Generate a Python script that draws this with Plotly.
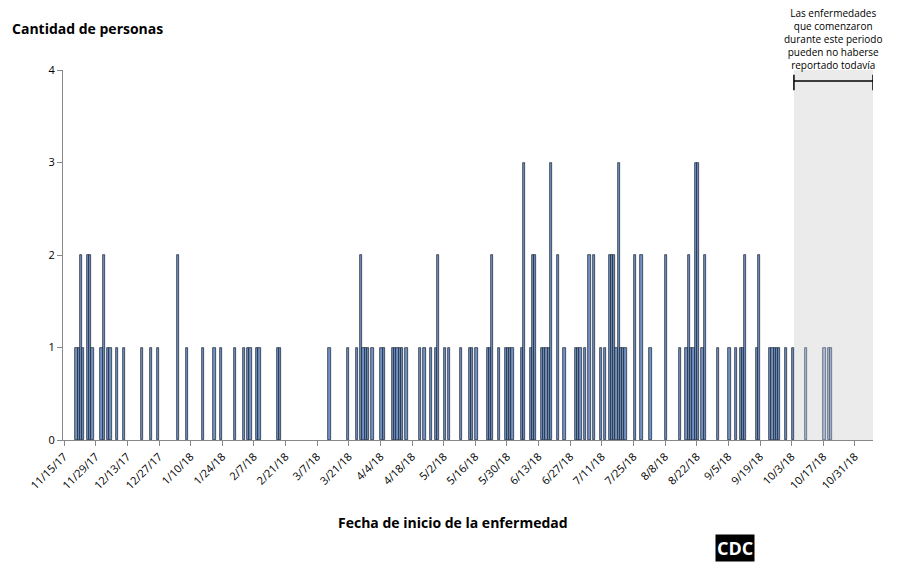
import plotly.graph_objects as go
from datetime import date, timedelta

# dia 0 = 11/15/17
start = date(2017, 11, 15)
dias = [5, 6, 7, 8, 10, 11, 12, 16, 17, 19, 20, 23, 26, 34, 38, 41, 50, 54, 61, 66, 69, 75, 79, 81, 82, 85, 86,
        94, 95, 117, 125, 129, 131, 132, 133, 134, 136, 140, 141, 145, 146, 147, 148, 149, 151, 157, 159, 162,
        164, 165, 168, 170, 175, 179, 180, 182, 187, 188, 189, 192, 195, 196, 197, 198, 202, 203, 206, 207,
        208, 211, 212, 213, 214, 215, 218, 221, 226, 227, 228, 230, 232, 234, 237, 239, 241, 242, 243, 244,
        245, 246, 247, 248, 252, 255, 259, 266, 272, 275, 276, 277, 278, 279, 280, 282, 283, 289, 294, 297,
        299, 300, 301, 306, 307, 312, 313, 314, 315, 316, 319, 322]
casos = [1, 1, 2, 1, 2, 2, 1, 1, 2, 1, 1, 1, 1, 1, 1, 1, 2, 1, 1, 1, 1, 1, 1, 1, 1, 1, 1,
         1, 1, 1, 1, 1, 2, 1, 1, 1, 1, 1, 1, 1, 1, 1, 1, 1, 1, 1, 1, 1,
         1, 2, 1, 1, 1, 1, 1, 1, 1, 1, 2, 1, 1, 1, 1, 1, 1, 3, 1, 2,
         2, 1, 1, 1, 1, 3, 2, 1, 1, 1, 1, 1, 2, 2, 1, 1, 2, 2, 2, 1,
         3, 1, 1, 1, 2, 2, 1, 2, 1, 1, 2, 1, 1, 3, 3, 1, 2, 1, 1, 1,
         1, 1, 2, 1, 2, 1, 1, 1, 1, 1, 1, 1]
dias_recientes = [328, 336, 338, 339]
casos_recientes = [1, 1, 1, 1]

tick_dias = list(range(0, 351, 14))
tick_text = [f"{d.month}/{d.day}/{d.strftime('%y')}" for d in (start + timedelta(days=t) for t in tick_dias)]

fig = go.Figure()
fig.add_bar(x=[d + 0.5 for d in dias], y=casos, width=1, marker_color="#7093c4",
            marker_line=dict(color="#141c2c", width=0.7))
fig.add_bar(x=[d + 0.5 for d in dias_recientes], y=casos_recientes, width=1, marker_color="#a8b9d3",
            marker_line=dict(color="#4a5568", width=0.7))

fig.add_shape(type="rect", x0=323, x1=358, y0=0, y1=4, xref="x", yref="y",
              fillcolor="#ebebeb", line_width=0, layer="below")
# corchete
for x0, x1, y0, y1 in [(323, 358, 3.88, 3.88), (323, 323, 3.78, 3.95), (358, 358, 3.78, 3.95)]:
    fig.add_shape(type="line", x0=x0, x1=x1, y0=y0, y1=y1, xref="x", yref="y",
                  line=dict(color="black", width=1.5))

fig.update_layout(
    width=884, height=568, margin=dict(l=55, r=19, t=62, b=136),
    paper_bgcolor="white", plot_bgcolor="white", showlegend=False, bargap=0,
    font=dict(family="Open Sans, DejaVu Sans", color="black"),
    annotations=[
        dict(x=340.5, y=0.99, xref="x", yref="paper", yanchor="bottom", showarrow=False,
             text="Las enfermedades<br>que comenzaron<br>durante este periodo<br>pueden no haberse<br>reportado todavía",
             font=dict(size=10, color="black")),
        dict(x=-53 / 810, y=1 + 42 / 370, xref="paper", yref="paper", xanchor="left", yanchor="middle",
             showarrow=False, text="<b>Cantidad de personas</b>", font=dict(size=14, color="black")),
        dict(x=(453 - 63) / 810, y=-82 / 370, xref="paper", yref="paper", yanchor="middle",
             showarrow=False, text="<b>Fecha de inicio de la enfermedad</b>", font=dict(size=14, color="black")),
        dict(x=(755 - 63) / 810, y=-108 / 370, xref="paper", yref="paper", yanchor="middle",
             showarrow=False, text="<b>CDC</b>", bgcolor="black", font=dict(size=18, color="white")),
    ],
)
fig.update_xaxes(range=[-0.5, 358], tickvals=tick_dias, ticktext=tick_text, tickangle=-45,
                 ticks="outside", ticklen=5, tickcolor="#888", showline=True, linecolor="#888",
                 showgrid=False, zeroline=False, tickfont=dict(size=11), automargin=False)
fig.update_yaxes(range=[0, 4], dtick=1, ticks="outside", ticklen=5, tickcolor="#888", showline=True,
                 linecolor="#888", showgrid=False, zeroline=False, tickfont=dict(size=11), automargin=False)

fig.write_html("out.html")
